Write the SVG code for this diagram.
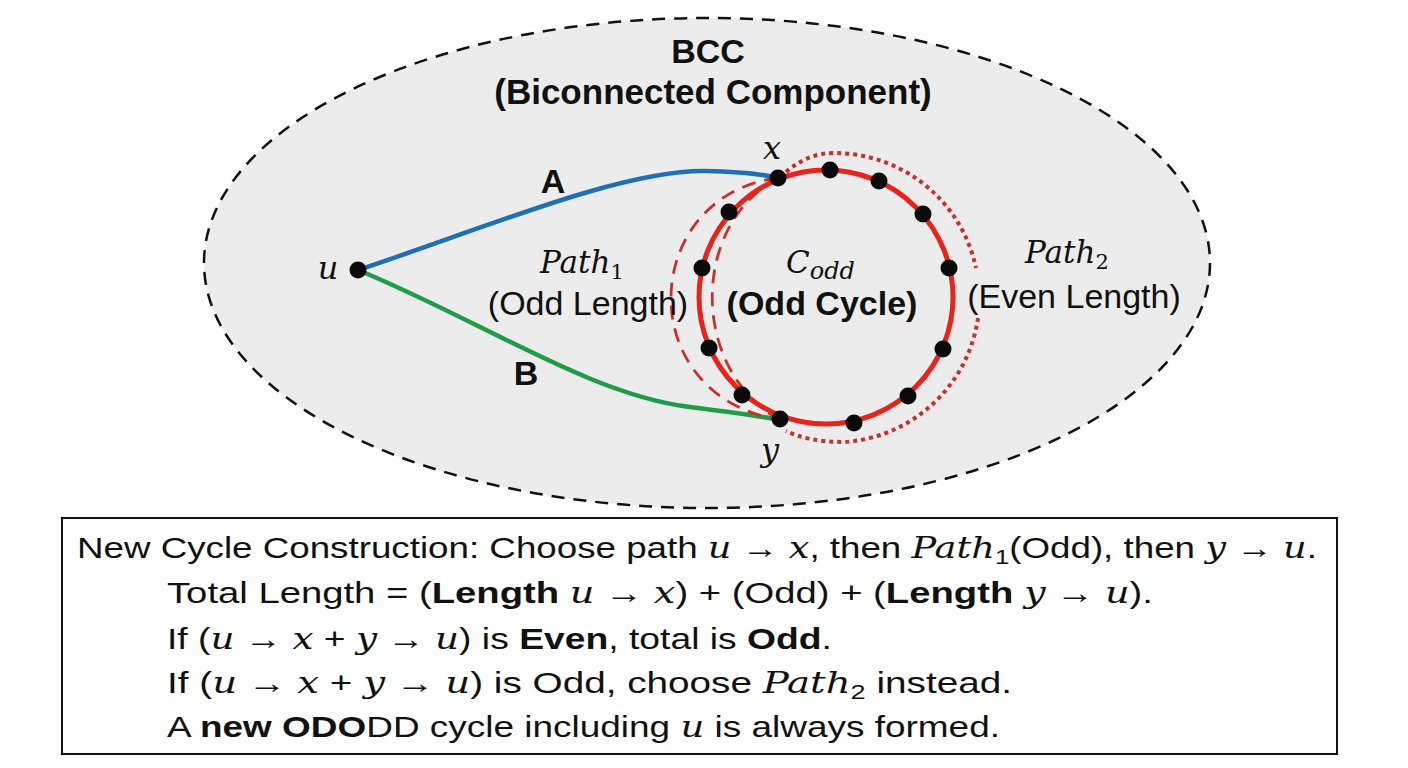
<svg xmlns="http://www.w3.org/2000/svg" width="1408" height="768" viewBox="0 0 1408 768">
  <defs>
    <style>
      .sans { font-family: "Liberation Sans", Arial, sans-serif; fill: #111; }
      .bold { font-weight: bold; }
      .math { font-family: "DejaVu Serif", "Liberation Serif", serif; font-style: italic; fill: #111; }
      .node { fill: #0a0a0a; }
      .cyc { fill: none; stroke: #e8231c; stroke-width: 5; }
      .p1 { fill: none; stroke: #c9302b; stroke-width: 2.8; stroke-dasharray: 14 9; }
      .p2 { fill: none; stroke: #c9302b; stroke-width: 4; stroke-dasharray: 4 4; }
      .box { font-family: "Liberation Sans", Arial, sans-serif; font-size: 30px; fill: #111; }
    </style>
  </defs>
  <rect width="1408" height="768" fill="#ffffff"/>

  <g id="bcc">
    <ellipse cx="707" cy="263" rx="503" ry="245" fill="#ececec" stroke="#111" stroke-width="2.5" stroke-dasharray="13 9"/>
    <text class="sans bold" x="708" y="63" font-size="34" text-anchor="middle">BCC</text>
    <text class="sans bold" x="713" y="104" font-size="35" text-anchor="middle">(Biconnected Component)</text>
  </g>

  <g id="connectors">
    <path id="edgeA" d="M358,270 C480,230 620,170 705,171 Q755,172 778,178" fill="none" stroke="#1f6fb5" stroke-width="4.5"/>
    <path id="edgeB" d="M358,270 C480,320 590,395 690,407 C730,412 760,416 780,420" fill="none" stroke="#1f9b4a" stroke-width="4.5"/>
    <path id="path1-outer" class="p1" d="M778,178 C640,195 630,395 780,420"/>
    <path id="path1-inner" class="p1" d="M778,178 C690,225 690,370 780,420"/>
    <path id="path2-top" class="p2" d="M786,172 C800,160 815,153 835,153 A145 145 0 0 1 976,268"/>
    <path id="path2-bot" class="p2" d="M978,318 A145 145 0 0 1 845,442 C820,442 800,438 786,431"/>
  </g>

  <g id="odd-cycle">
    <circle class="cyc" cx="826" cy="297" r="127"/>
  </g>

  <g id="cycle-nodes">
    <circle class="node" cx="778" cy="178" r="8.5"/>
    <circle class="node" cx="830" cy="170" r="8.5"/>
    <circle class="node" cx="879" cy="181" r="8.5"/>
    <circle class="node" cx="923" cy="214" r="8.5"/>
    <circle class="node" cx="949" cy="268" r="8.5"/>
    <circle class="node" cx="943" cy="349" r="8.5"/>
    <circle class="node" cx="908" cy="396" r="8.5"/>
    <circle class="node" cx="854" cy="423" r="8.5"/>
    <circle class="node" cx="780" cy="419" r="8.5"/>
    <circle class="node" cx="742" cy="395" r="8.5"/>
    <circle class="node" cx="709" cy="348" r="8.5"/>
    <circle class="node" cx="702" cy="268" r="8.5"/>
    <circle class="node" cx="729" cy="212" r="8.5"/>
  </g>

  <g id="node-u">
    <circle class="node" cx="358" cy="270" r="8.5"/>
    <text class="math" x="328" y="279" font-size="32" text-anchor="middle">u</text>
  </g>
  <g id="label-x">
    <text class="math" x="772" y="159" font-size="32" text-anchor="middle">x</text>
  </g>
  <g id="label-y">
    <text class="math" x="770" y="461" font-size="32" text-anchor="middle">y</text>
  </g>
  <g id="label-A">
    <text class="sans bold" x="553" y="193" font-size="34" text-anchor="middle">A</text>
  </g>
  <g id="label-B">
    <text class="sans bold" x="526" y="385" font-size="34" text-anchor="middle">B</text>
  </g>

  <g id="label-path1">
    <text class="math" x="540" y="273" font-size="31">Path<tspan dy="6" font-size="21" font-style="normal">1</tspan></text>
    <text class="sans" x="588" y="315" font-size="34" text-anchor="middle">(Odd Length)</text>
  </g>
  <g id="label-codd">
    <text class="math" x="786" y="273" font-size="31">C<tspan dy="6" font-size="24">odd</tspan></text>
    <text class="sans bold" x="822" y="315" font-size="34" text-anchor="middle">(Odd Cycle)</text>
  </g>
  <g id="label-path2">
    <text class="math" x="1025" y="263" font-size="31">Path<tspan dy="6" font-size="21" font-style="normal">2</tspan></text>
    <text class="sans" x="1074" y="308" font-size="34" text-anchor="middle">(Even Length)</text>
  </g>

  <g id="explanation">
    <rect x="62" y="518" width="1275" height="236" fill="#ffffff" stroke="#111" stroke-width="2"/>
    <text class="box" x="77" y="558" textLength="1240" lengthAdjust="spacingAndGlyphs">New Cycle Construction: Choose path <tspan class="math">u</tspan> → <tspan class="math">x</tspan>, then <tspan class="math">Path</tspan><tspan dy="6" font-size="21">1</tspan><tspan dy="-6">(Odd), then </tspan><tspan class="math">y</tspan> → <tspan class="math">u</tspan>.</text>
    <text class="box" x="167" y="603" textLength="986" lengthAdjust="spacingAndGlyphs">Total Length =  (<tspan class="bold">Length</tspan> <tspan class="math">u</tspan> → <tspan class="math">x</tspan>) +  (Odd)  + (<tspan class="bold">Length</tspan> <tspan class="math">y</tspan> → <tspan class="math">u</tspan>).</text>
    <text class="box" x="167" y="649" textLength="665" lengthAdjust="spacingAndGlyphs">If  (<tspan class="math">u</tspan> → <tspan class="math">x</tspan> + <tspan class="math">y</tspan> → <tspan class="math">u</tspan>) is <tspan class="bold">Even</tspan>, total is <tspan class="bold">Odd</tspan>.</text>
    <text class="box" x="167" y="693" textLength="845" lengthAdjust="spacingAndGlyphs">If  (<tspan class="math">u</tspan> → <tspan class="math">x</tspan> + <tspan class="math">y</tspan> → <tspan class="math">u</tspan>) is Odd, choose <tspan class="math">Path</tspan><tspan dy="6" font-size="21">2</tspan><tspan dy="-6"> instead.</tspan></text>
    <text class="box" x="167" y="737" textLength="833" lengthAdjust="spacingAndGlyphs">A <tspan class="bold">new ODO</tspan>DD cycle including <tspan class="math">u</tspan> is always formed.</text>
  </g>
</svg>
